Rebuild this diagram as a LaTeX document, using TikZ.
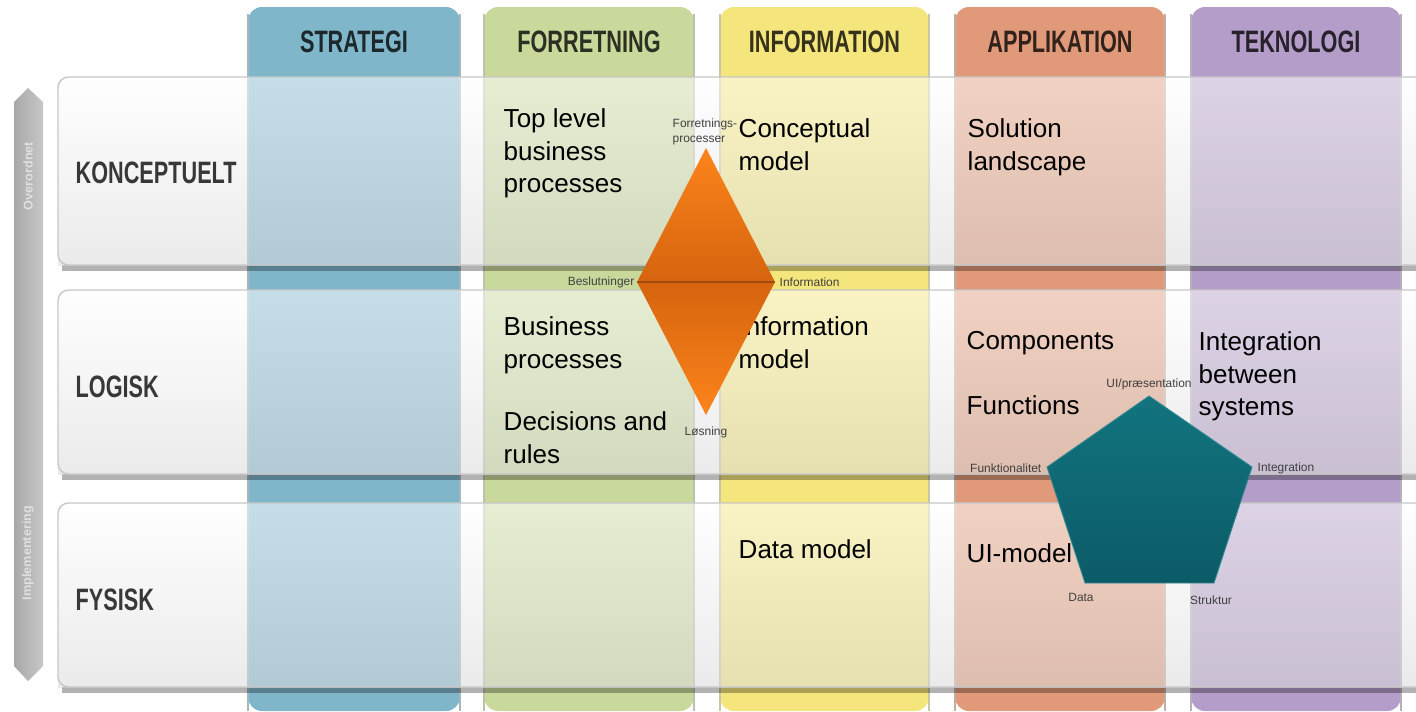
\documentclass[tikz,border=0pt]{standalone}
\usepackage{fontspec}
\setmainfont{Liberation Sans}
\usepackage{graphicx}
\usepackage{tikz}

\definecolor{strategi}{HTML}{7FB6CA}
\definecolor{forretning}{HTML}{C9D99C}
\definecolor{information}{HTML}{F4E67C}
\definecolor{applikation}{HTML}{E19A79}
\definecolor{teknologi}{HTML}{B49DC9}
\definecolor{dlight}{HTML}{FC841B}
\definecolor{ddark}{HTML}{D6640F}
\definecolor{ptop}{HTML}{12747F}
\definecolor{pbot}{HTML}{0B5B67}

\newcommand{\narrow}[1]{\scalebox{0.7}[1]{#1}}

\tikzset{
  head/.style={font=\fontsize{8.8}{10}\selectfont\bfseries, inner sep=0pt},
  cell/.style={anchor=north west, align=left, inner sep=0pt,
    font=\fontsize{7.4}{9.25}\selectfont},
  tag/.style={inner sep=0pt, text=black!75, font=\fontsize{3.4}{4.5}\selectfont},
  axis/.style={inner sep=0pt, rotate=90, text=white!88!black, font=\fontsize{3.6}{4}\selectfont\bfseries}
}

\begin{document}
\begin{tikzpicture}[x=0.01cm,y=-0.01cm]

\useasboundingbox (0,0) rectangle (1416,711);
\fill[white] (0,0) rectangle (1416,711);

\shade[left color=black!34, right color=black!22]
  (14,102) -- (28,88) -- (43,102) -- (43,666) -- (28,681) -- (14,666) -- cycle;
\node[axis] (over) at (28,176) {Overordnet};
\node[axis] (impl) at (28,553) {Implementering};

\foreach \name/\xa/\xb/\lab in {strategi/248/460/STRATEGI, forretning/484/694/FORRETNING,
    information/720/929/INFORMATION, applikation/955/1165/APPLIKATION, teknologi/1191/1401/TEKNOLOGI}
{
    \fill[\name, rounded corners=4] (\xa,711) -- (\xa,7) -- (\xb,7) -- (\xb,711) -- cycle;
    \draw[\name!60!black!50, line width=0.35pt] (\xa,711) -- (\xa,14);
    \draw[\name!60!black!50, line width=0.35pt] (\xb,711) -- (\xb,14);
    \node[head, text=\name!22!black] (\name) at ({(\xa+\xb)/2},42) {\narrow{\lab}};
}

\foreach \ya/\yb in {77/265, 290/474, 503/687}
{
    \fill[black, opacity=0.3] (62,\yb) rectangle (1416,{\yb+6});
    \shade[top color=white, bottom color=black!14, opacity=0.55] (58,\ya) rectangle (1416,\yb);
    \draw[black!22, line width=0.4pt, rounded corners=3] (1420,\ya) -- (58,\ya) -- (58,\yb) -- (1420,\yb);
}

\node[head, anchor=west, text=black!78] (konceptuelt) at (75,173) {\narrow{KONCEPTUELT}};
\node[head, anchor=west, text=black!78] (logisk) at (75,387) {\narrow{LOGISK}};
\node[head, anchor=west, text=black!78] (fysisk) at (75,600) {\narrow{FYSISK}};

\node[cell] (toplevel) at (503,108) {Top level\\business\\processes};
\node[cell] (concept) at (738,118) {Conceptual\\model};
\node[cell] (solution) at (967,118) {Solution\\landscape};
\node[cell] (business) at (503,316) {Business\\processes};
\node[cell] (decisions) at (503,411) {Decisions and\\rules};
\node[cell] (infomodel) at (738,316) {Information\\model};
\node[cell] (components) at (966,331) {Components};
\node[cell] (functions) at (966,395) {Functions};
\node[cell] (integration) at (1198,331) {Integration\\between\\systems};
\node[cell] (datamodel) at (738,539) {Data model};
\node[cell] (uimodel) at (966,543) {UI-model};

\coordinate (dtop) at (706,148);
\coordinate (dleft) at (637,282);
\coordinate (dright) at (775,282);
\coordinate (dbot) at (706,415);

\shade[top color=dlight, bottom color=ddark] (dtop) -- (dright) -- (dleft) -- cycle;
\shade[top color=ddark, bottom color=dlight] (dleft) -- (dright) -- (dbot) -- cycle;
\draw[ddark!75!black, line width=0.4pt] (dleft) -- (dright);

\node[tag, anchor=south west, align=left] (forr) at (672,146) {Forretnings-\\processer};
\node[tag, anchor=east] (beslut) at (635,282) {Beslutninger};
\node[tag, anchor=west] (info) at (779,282) {Information};
\node[tag] (losning) at (706,432) {Løsning};

\coordinate (ptop) at (1149,396);
\coordinate (pleft) at (1047,467);
\coordinate (pright) at (1252,467);
\coordinate (pbl) at (1085,583);
\coordinate (pbr) at (1214,583);

\shade[top color=ptop, bottom color=pbot, draw=ptop!85!white, line width=0.25pt]
  (ptop) -- (pright) -- (pbr) -- (pbl) -- (pleft) -- cycle;

\node[tag] (ui) at (1149,384) {UI/præsentation};
\node[tag, anchor=east] (funk) at (1042,468) {Funktionalitet};
\node[tag, anchor=west] (integ) at (1257,468) {Integration};
\node[tag] (data) at (1081,597) {Data};
\node[tag] (struktur) at (1211,600) {Struktur};

\end{tikzpicture}
\end{document}
